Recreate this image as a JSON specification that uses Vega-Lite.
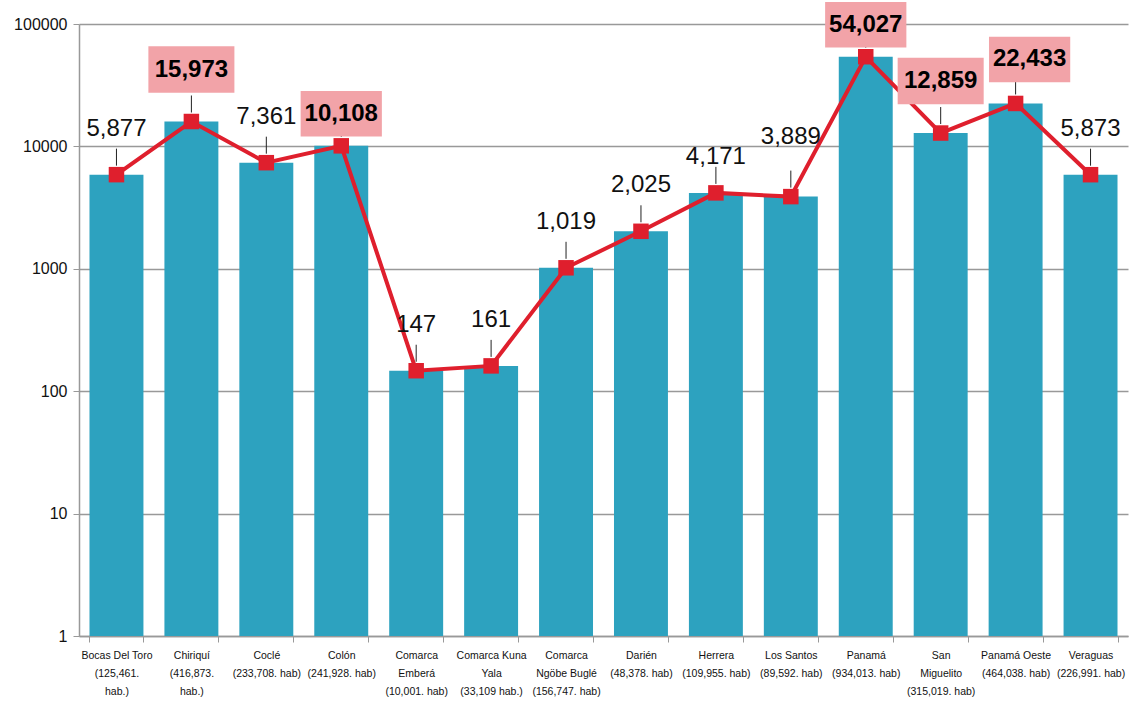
{
  "$schema": "https://vega.github.io/schema/vega-lite/v6.json",
  "width": 1049,
  "height": 612,
  "autosize": {"type": "none"},
  "padding": {"left": 79, "top": 24, "right": 3, "bottom": 68},
  "background": "white",
  "config": {
    "view": {"stroke": null},
    "font": "Liberation Sans, sans-serif"
  },
  "data": {
    "values": [
      {"region": "Bocas Del Toro|(125,461.|hab.)", "cases": 5877},
      {"region": "Chiriquí|(416,873.|hab.)", "cases": 15973},
      {"region": "Coclé|(233,708. hab)", "cases": 7361},
      {"region": "Colón|(241,928. hab)", "cases": 10108},
      {"region": "Comarca|Emberá|(10,001. hab)", "cases": 147},
      {"region": "Comarca Kuna|Yala|(33,109 hab.)", "cases": 161},
      {"region": "Comarca|Ngöbe Buglé|(156,747. hab)", "cases": 1019},
      {"region": "Darién|(48,378. hab)", "cases": 2025},
      {"region": "Herrera|(109,955. hab)", "cases": 4171},
      {"region": "Los Santos|(89,592. hab)", "cases": 3889},
      {"region": "Panamá|(934,013. hab)", "cases": 54027},
      {"region": "San|Miguelito|(315,019. hab)", "cases": 12859},
      {"region": "Panamá Oeste|(464,038. hab)", "cases": 22433},
      {"region": "Veraguas|(226,991. hab)", "cases": 5873}
    ]
  },
  "encoding": {
    "x": {
      "field": "region",
      "type": "nominal",
      "sort": null,
      "scale": {"paddingInner": 0.28, "paddingOuter": 0.14},
      "axis": {
        "title": null,
        "labelAngle": 0,
        "labelExpr": "split(datum.label, '|')",
        "labelFont": "Liberation Sans, sans-serif",
        "labelFontSize": 10.5,
        "labelColor": "#111",
        "labelLineHeight": 18,
        "labelPadding": 8,
        "labelLimit": 0,
        "tickBand": "extent",
        "tickColor": "#999",
        "tickSize": 6,
        "domainColor": "#999",
        "domainWidth": 1.5
      }
    },
    "y": {
      "field": "cases",
      "type": "quantitative",
      "scale": {"type": "log", "domain": [1, 100000]},
      "axis": {
        "title": null,
        "values": [1, 10, 100, 1000, 10000, 100000],
        "format": "d",
        "labelFont": "Liberation Sans, sans-serif",
        "labelFontSize": 16,
        "labelColor": "#111",
        "labelPadding": 6,
        "tickColor": "#999",
        "tickSize": 6,
        "domainColor": "#999",
        "domainWidth": 1.5,
        "gridColor": "#999",
        "gridWidth": 1.5
      }
    }
  },
  "layer": [
    {"mark": {"type": "bar", "color": "#2DA2BF"}, "encoding": {"y2": {"datum": 1}}},
    {"mark": {"type": "line", "color": "#DF1F2D", "strokeWidth": 4}},
    {"mark": {"type": "point", "shape": "square", "filled": true, "color": "#DF1F2D", "opacity": 1, "size": 240}},
    {"mark": {"type": "rule", "color": "#222", "strokeWidth": 1, "yOffset": -9, "y2Offset": -26}, "encoding": {"y2": {"field": "cases"}}},
    {
      "transform": [{"filter": {"field": "cases", "oneOf": [15973, 12859]}}],
      "mark": {"type": "point", "shape": "M-1,-0.54H1V0.54H-1Z", "filled": true, "color": "#F2A3A8", "opacity": 1, "size": 7400, "yOffset": -52}
    },
    {
      "transform": [{"filter": {"field": "cases", "oneOf": [10108, 54027]}}],
      "mark": {"type": "point", "shape": "M-1,-0.56H1V0.56H-1Z", "filled": true, "color": "#F2A3A8", "opacity": 1, "size": 6600, "yOffset": -32}
    },
    {
      "transform": [{"filter": {"field": "cases", "oneOf": [22433]}}],
      "mark": {"type": "point", "shape": "M-1,-0.56H1V0.56H-1Z", "filled": true, "color": "#F2A3A8", "opacity": 1, "size": 6600, "yOffset": -44, "xOffset": 14}
    },
    {
      "transform": [{"filter": {"field": "cases", "oneOf": [15973, 12859]}}],
      "mark": {"type": "text", "fontSize": 24, "fontWeight": "bold", "color": "#000", "yOffset": -52},
      "encoding": {"text": {"field": "cases", "format": ","}}
    },
    {
      "transform": [{"filter": {"field": "cases", "oneOf": [10108, 54027]}}],
      "mark": {"type": "text", "fontSize": 24, "fontWeight": "bold", "color": "#000", "yOffset": -32},
      "encoding": {"text": {"field": "cases", "format": ","}}
    },
    {
      "transform": [{"filter": {"field": "cases", "oneOf": [22433]}}],
      "mark": {"type": "text", "fontSize": 24, "fontWeight": "bold", "color": "#000", "yOffset": -44, "xOffset": 14},
      "encoding": {"text": {"field": "cases", "format": ","}}
    },
    {
      "transform": [{"filter": "datum.cases < 10000 && datum.cases != 3889 && datum.cases != 4171"}],
      "mark": {"type": "text", "fontSize": 24, "color": "#111", "yOffset": -46},
      "encoding": {"text": {"field": "cases", "format": ","}}
    },
    {
      "transform": [{"filter": {"field": "cases", "oneOf": [3889]}}],
      "mark": {"type": "text", "fontSize": 24, "color": "#111", "yOffset": -60},
      "encoding": {"text": {"field": "cases", "format": ","}}
    },
    {
      "transform": [{"filter": {"field": "cases", "oneOf": [4171]}}],
      "mark": {"type": "text", "fontSize": 24, "color": "#111", "yOffset": -36},
      "encoding": {"text": {"field": "cases", "format": ","}}
    }
  ]
}
